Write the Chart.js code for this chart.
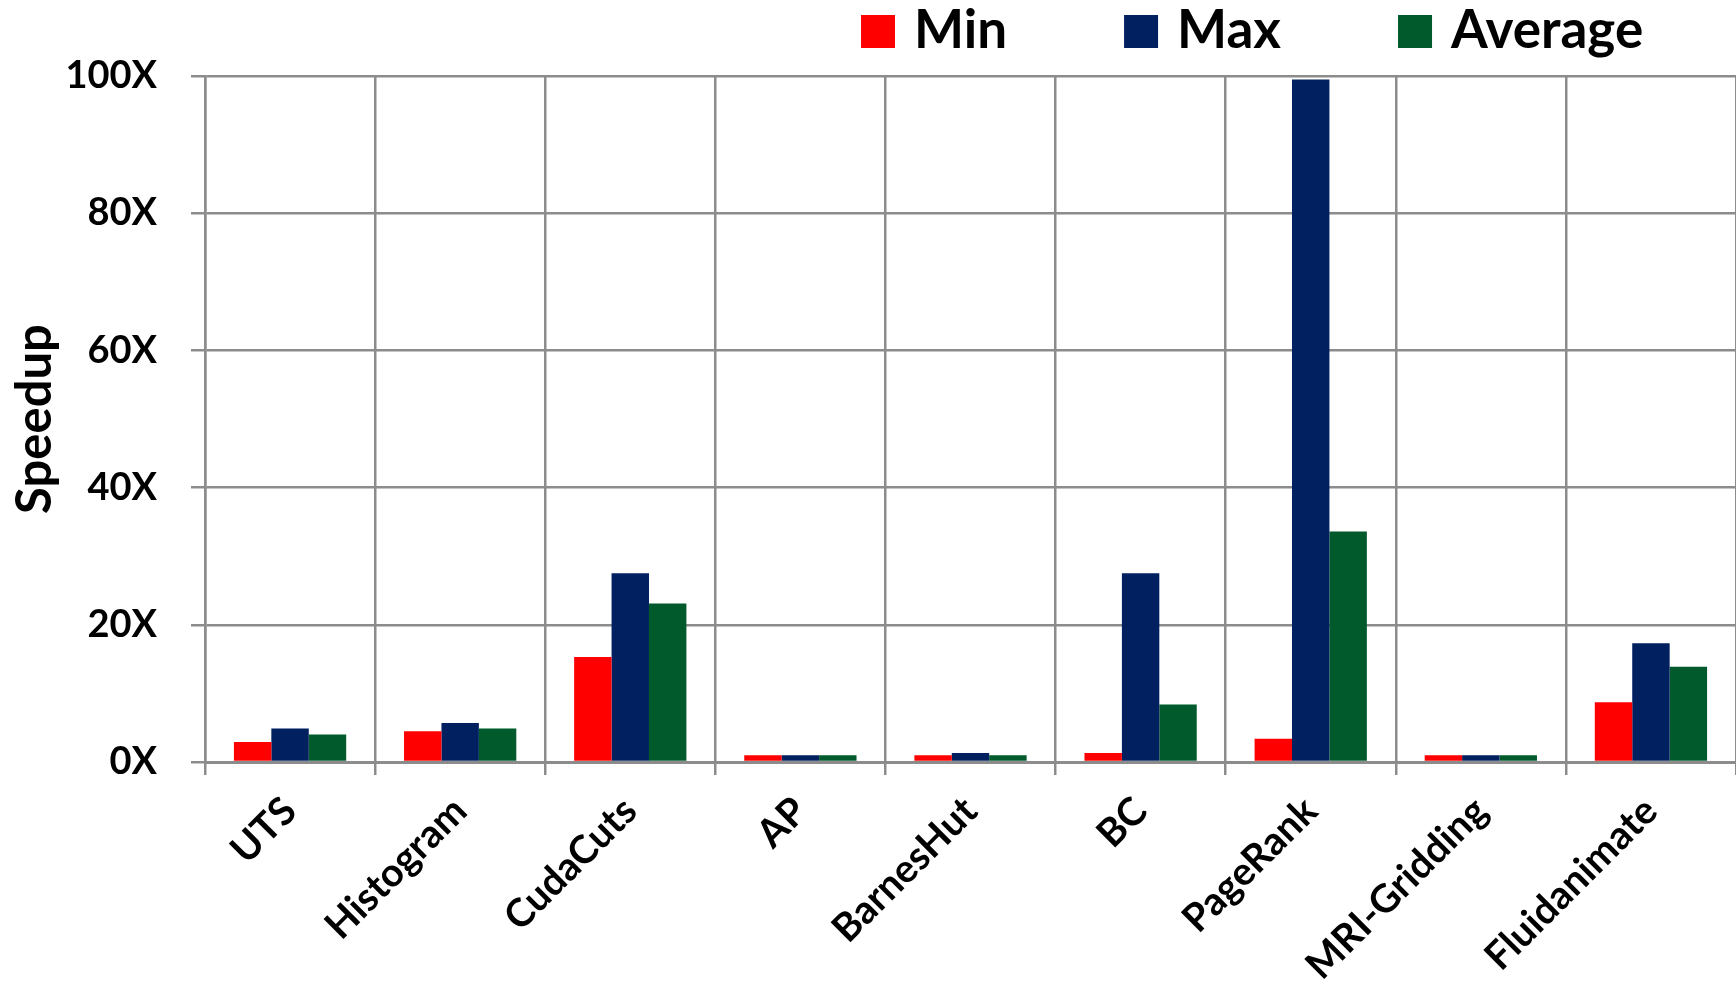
<!DOCTYPE html>
<html>
<head>
<meta charset="utf-8">
<script src="https://cdn.jsdelivr.net/npm/chart.js@4/dist/chart.umd.min.js"></script>
<style>
  html, body { margin: 0; padding: 0; background: #ffffff; }
  #wrap { width: 1736px; height: 985px; position: relative; }
</style>
</head>
<body>
<div id="wrap"><canvas id="chart"></canvas></div>
<script>
// Benchmarks and their measured speedups
const benchmarks = ['UTS', 'Histogram', 'CudaCuts', 'AP', 'BarnesHut', 'BC', 'PageRank', 'MRI-Gridding', 'Fluidanimate'];
const minSpeedup = [2.9, 4.5, 15.3, 1.0, 1.0, 1.3, 3.4, 1.0, 8.7];
const maxSpeedup = [4.9, 5.7, 27.5, 1.0, 1.3, 27.5, 99.5, 1.0, 17.3];
const avgSpeedup = [4.0, 4.9, 23.1, 1.0, 1.0, 8.4, 33.6, 1.0, 13.9];
const yTickValues = [0, 20, 40, 60, 80, 100];

const FONT = 'Lato, "Open Sans", sans-serif';
const GRID = '#8c8c8c';

// Legend row drawn across the top, above the plot
const topLegend = {
  id: 'topLegend',
  afterDraw(chart) {
    const ctx = chart.ctx;
    const boxW = 34, boxH = 33, gapText = 19, gapItem = 117;
    const boxTop = 15, baseline = 48;
    let x = 861;
    ctx.save();
    ctx.font = 'bold 53px ' + FONT;
    ctx.textBaseline = 'alphabetic';
    ctx.textAlign = 'left';
    chart.data.datasets.forEach(ds => {
      ctx.fillStyle = ds.backgroundColor;
      ctx.fillRect(x, boxTop, boxW, boxH);
      x += boxW + gapText;
      ctx.fillStyle = '#000000';
      ctx.fillText(ds.label, x, baseline);
      x += ctx.measureText(ds.label).width + gapItem;
    });
    ctx.restore();
  }
};

new Chart(document.getElementById('chart'), {
  type: 'bar',
  data: {
    labels: benchmarks,
    datasets: [
      { label: 'Min', data: minSpeedup, backgroundColor: '#ff0000' },
      { label: 'Max', data: maxSpeedup, backgroundColor: '#00205f' },
      { label: 'Average', data: avgSpeedup, backgroundColor: '#005a2b' }
    ]
  },
  options: {
    responsive: true,
    maintainAspectRatio: false,
    animation: false,
    devicePixelRatio: 1,
    layout: { padding: { top: 76, left: 6, right: 0, bottom: 0 } },
    datasets: { bar: { categoryPercentage: 0.66, barPercentage: 1.0, borderWidth: 0 } },
    plugins: {
      legend: { display: false },
      tooltip: { enabled: false }
    },
    scales: {
      x: {
        afterFit(scale) { scale.height = 223; },
        grid: { color: GRID, lineWidth: 2.5, offset: true, tickLength: 13, tickColor: GRID },
        border: { color: GRID, width: 3 },
        ticks: {
          color: '#000000',
          font: { family: FONT, size: 39, weight: 'bold' },
          minRotation: 45,
          maxRotation: 45,
          padding: 13,
          autoSkip: false
        }
      },
      y: {
        min: 0,
        max: 100,
        afterFit(scale) { scale.width = 199; },
        afterBuildTicks(scale) { scale.ticks = yTickValues.map(v => ({ value: v })); },
        grid: { color: GRID, lineWidth: 2.5, tickLength: 14, tickColor: GRID },
        border: { color: GRID, width: 2.5 },
        ticks: {
          color: '#000000',
          font: { family: FONT, size: 38, weight: 'bold' },
          padding: 34,
          callback: v => v + 'X'
        },
        title: {
          display: true,
          text: 'Speedup',
          color: '#000000',
          font: { family: FONT, size: 49, weight: 'bold' },
          padding: { top: 0, bottom: 0 }
        }
      }
    }
  },
  plugins: [topLegend]
});
</script>
</body>
</html>
